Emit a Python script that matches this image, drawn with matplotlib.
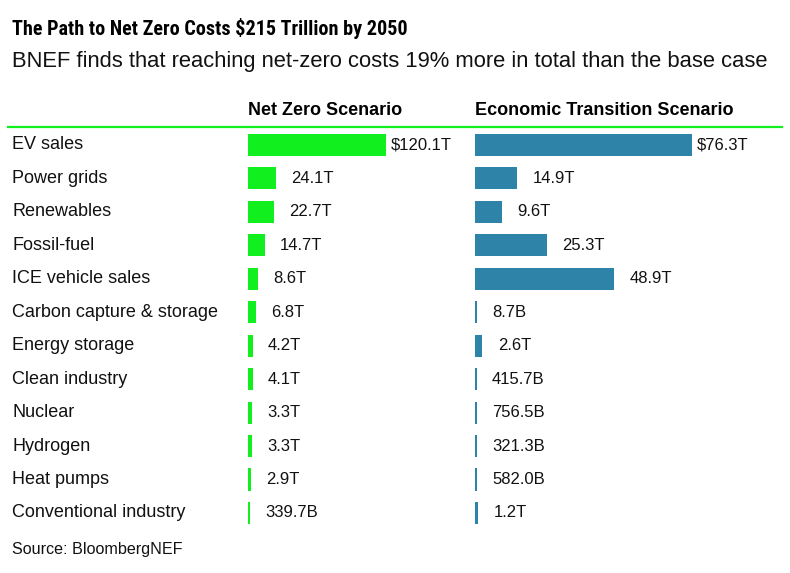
import matplotlib.pyplot as plt
from matplotlib import font_manager as fm
from matplotlib.transforms import blended_transform_factory

plt.rcParams['font.family'] = ['Liberation Sans', 'DejaVu Sans']

categories = ["EV sales", "Power grids", "Renewables", "Fossil-fuel", "ICE vehicle sales",
              "Carbon capture & storage", "Energy storage", "Clean industry", "Nuclear",
              "Hydrogen", "Heat pumps", "Conventional industry"]
# trillions of dollars
net_zero = [120.1, 24.1, 22.7, 14.7, 8.6, 6.8, 4.2, 4.1, 3.3, 3.3, 2.9, 0.3397]
econ_trans = [76.3, 14.9, 9.6, 25.3, 48.9, 0.0087, 2.6, 0.4157, 0.7565, 0.3213, 0.582, 1.2]
nz_labels = ["$120.1T", "24.1T", "22.7T", "14.7T", "8.6T", "6.8T", "4.2T", "4.1T",
             "3.3T", "3.3T", "2.9T", "339.7B"]
et_labels = ["$76.3T", "14.9T", "9.6T", "25.3T", "48.9T", "8.7B", "2.6T", "415.7B",
             "756.5B", "321.3B", "582.0B", "1.2T"]

W, H = 790, 573
green = "#12ef1f"
blue = "#2e83a8"

# look for a condensed bold face for the title
title_fp = fm.FontProperties(family=['Liberation Sans'], weight='bold')
for f in fm.fontManager.ttflist:
    fn = f.fname.lower()
    if ('narrow' in fn or 'condensed' in fn) and 'bold' in fn and 'oblique' not in fn and 'italic' not in fn:
        title_fp = fm.FontProperties(fname=f.fname)
        if 'liberation' in fn or 'roboto' in fn:
            break

fig = plt.figure(figsize=(W / 100, H / 100), dpi=100)

def px_axes(x0, x1, y0, y1):
    return fig.add_axes([x0 / W, 1 - y1 / H, (x1 - x0) / W, (y1 - y0) / H])

ax1 = px_axes(248, 455, 128, 530)
ax2 = px_axes(475, 780, 128, 530)

ypos = list(range(len(categories)))
for ax, vals, labs, col, xmax, minw in [(ax1, net_zero, nz_labels, green, 180, 1.6),
                                        (ax2, econ_trans, et_labels, blue, 107, 0.6)]:
    widths = [max(v, minw) for v in vals]
    ax.barh(ypos, widths, height=0.66, color=col)
    ax.set_xlim(0, xmax)
    ax.set_ylim(11.51, -0.508)
    ax.axis("off")
    for i, (w, lab) in enumerate(zip(widths, labs)):
        off = 3 if i == 0 else 11
        ax.annotate(lab, (w, i), xytext=(off, 0), textcoords="offset points",
                    va="center", ha="left", fontsize=12, color="#111111")

tr = blended_transform_factory(fig.transFigure, ax1.transData)
for i, c in enumerate(categories):
    fig.text(12 / W, i, c, transform=tr, va="center", ha="left",
             fontsize=13, color="#111111")

title = fig.text(12 / W, 1 - 35 / H, "The Path to Net Zero Costs $215 Trillion by 2050",
                 fontproperties=title_fp, fontsize=17, va="baseline", ha="left")
# squeeze the title size so it spans about the same width as the original
r = fig.canvas.get_renderer()
tw = title.get_window_extent(r).width
if tw > 383:
    title.set_fontsize(max(17 * 383 / tw, 14.5))

fig.text(12 / W, 1 - 67 / H, "BNEF finds that reaching net-zero costs 19% more in total than the base case",
         fontsize=15.8, va="baseline", ha="left", color="#111111")
fig.text(248 / W, 1 - 115 / H, "Net Zero Scenario", fontsize=13, fontweight="bold",
         va="baseline", ha="left")
fig.text(475 / W, 1 - 115 / H, "Economic Transition Scenario", fontsize=13, fontweight="bold",
         va="baseline", ha="left")
fig.add_artist(plt.Line2D([8 / W, 782 / W], [1 - 127 / H, 1 - 127 / H], color=green, lw=1.6))
fig.text(12 / W, 1 - 554 / H, "Source: BloombergNEF", fontsize=11.6, va="baseline",
         ha="left", color="#111111")

fig.savefig("out.png", dpi=100)
